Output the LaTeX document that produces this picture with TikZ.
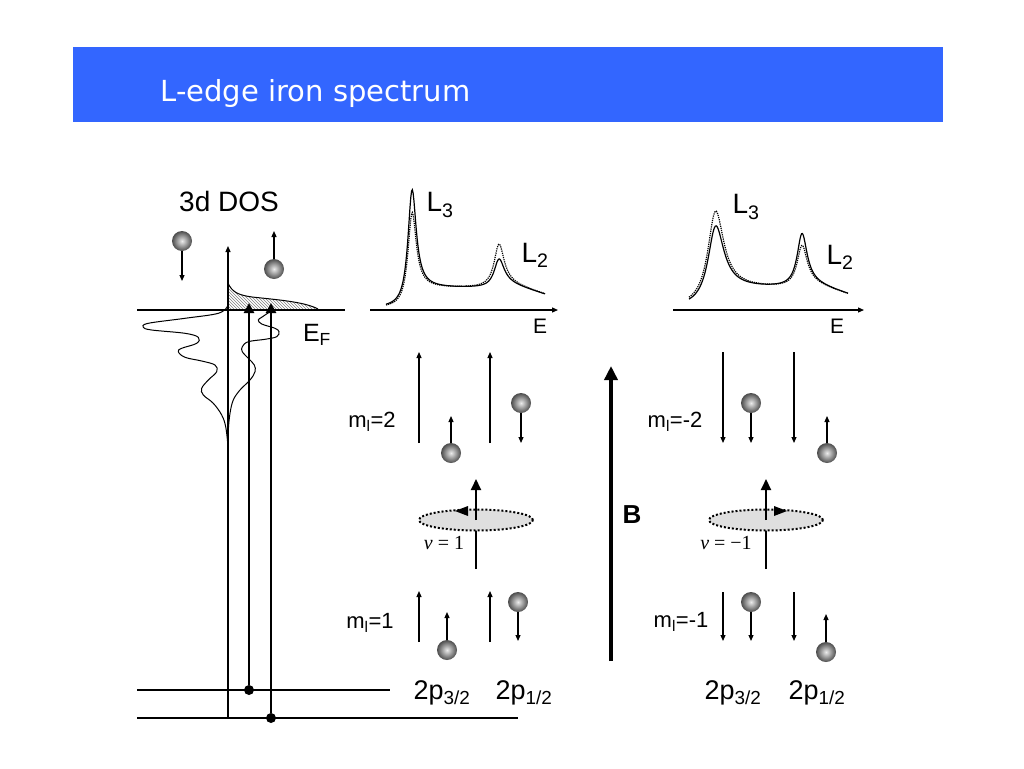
\documentclass[tikz,border=0pt]{standalone}
\usepackage{fontspec}
\setmainfont{Liberation Sans}
\newfontfamily\titlefont{DejaVu Sans}
\newfontfamily\seriffont{Liberation Serif}
\usetikzlibrary{arrows.meta,shapes.geometric,patterns}
\definecolor{titleblue}{RGB}{51,102,255}
\tikzset{
  elec/.style={circle,minimum size=20pt,inner sep=0pt,shading=radial,inner color=gray!15,outer color=gray!60!black},
  spin/.style={-{Triangle[length=6pt,width=5pt]},line width=1.2pt},
  exc/.style={-{Triangle[length=10pt,width=10pt]},line width=2.6pt},
  dot/.style={circle,fill=black,minimum size=10pt,inner sep=0pt},
  orb/.style={ellipse,draw=black,fill=gray!25,line width=2pt,dash pattern=on 2pt off 2pt,minimum width=114pt,minimum height=21pt},
  lab/.style={font=\fontsize{22}{26}\selectfont},
  big/.style={font=\fontsize{28}{32}\selectfont},
  lvl/.style={font=\fontsize{27}{30}\selectfont},
  nu/.style={font=\seriffont\fontsize{20}{24}\selectfont},
  declare function={lor(\x,\c,\w)=1/(1+((\x-\c)/\w)^2);
    stp(\x,\c)=1/(1+exp(min(max(-(\x-\c)/3,-9),9)));
    cont(\x,\c)=20*stp(\x,\c)+8*stp(\x,\c+87)-0.3*max(\x-\c-87,0);}
}
\begin{document}
\begin{tikzpicture}[x=1pt,y=-1pt]
    \useasboundingbox (0,0) rectangle (1024,768);
    \fill[titleblue] (73,47) rectangle (943,122);
    \node[anchor=base west,text=white,font=\titlefont\fontsize{29}{34}\selectfont] (title) at (157,101) {L-edge iron spectrum};

    \fill[pattern=north west lines,pattern color=gray] (228,310) -- (228,283) .. controls (232,292) and (238,295) .. (252,297) .. controls (280,300) and (305,302) .. (318,309) -- cycle;
    \draw[line width=1pt] (228,283) .. controls (232,292) and (238,295) .. (252,297) .. controls (280,300) and (305,302) .. (318,309);
    \draw[line width=1pt] plot[smooth,tension=0.6] coordinates {(227.7,306) (218.3,313.3) (185,318.3) (148.3,323.3) (143.3,327.3) (151.7,330) (185,333.3) (198.3,337.3) (196.7,343.3) (181.7,348.3) (178.3,351.7) (185,357.3) (201.7,361) (215,365) (216.7,371.7) (208.3,380) (201.7,388.3) (203.3,395) (213.3,403.3) (221.7,415) (225.7,426.7) (227.7,443.3)};
    \draw[line width=1pt] plot[smooth,tension=0.6] coordinates {(270,311.7) (261.7,317.3) (258.3,320) (261.7,324) (275,328.3) (279,331.7) (276.7,336.7) (265,339.3) (248.3,341.7) (242.3,346.7) (242.3,351.7) (248.3,358.3) (254.3,365) (255,371.7) (250,380) (240,390) (233.3,400) (230,413.3) (228.3,430) (228,443.3)};
    \draw[spin] (228,718) -- (228,246);
    \draw[line width=1.2pt] (137,310) -- (345,310);
    \node[font=\fontsize{28}{32}\selectfont] (dos) at (229,201) {3d DOS};
    \node[font=\fontsize{25}{30}\selectfont] (ef) at (317,335) {E\textsubscript{F}};

    \draw[line width=1.2pt] (137,690) -- (390,690);
    \draw[line width=1.2pt] (137,718) -- (518,718);
    \node[dot] (c1) at (249,690) {};
    \node[dot] (c2) at (271,718) {};
    \coordinate (f1) at (249,303);
    \coordinate (f2) at (271,303);
    \draw[exc] (c1) -- (f1);
    \draw[exc] (c2) -- (f2);

    \foreach \c/\w/\s/\t/\u/\v/\a/\b in {410/5/105/82/24/39/386/545, 713/10/68/83/49/37/689/848}
        {\draw[line width=1.2pt,densely dotted] plot[domain=\a:\b,samples=200] (\x,{308-(cont(\x,\c)+\t*lor(\x,\c+2,\w)+\v*lor(\x,\c+89,6))});
        \draw[line width=1.2pt] plot[domain=\a:\b,samples=200] (\x,{308-(cont(\x,\c)+\s*lor(\x,\c+2,\w)+\u*lor(\x,\c+89,6))});}
    \draw[spin] (370,310) -- (558,310);
    \draw[spin] (673,310) -- (864,310);
    \node[big] (l3a) at (440,205) {L\textsubscript{3}};
    \node[big] (l2a) at (535,255) {L\textsubscript{2}};
    \node[big] (l3b) at (746,207) {L\textsubscript{3}};
    \node[big] (l2b) at (840,257) {L\textsubscript{2}};
    \node[font=\fontsize{21}{24}\selectfont] (ea) at (540,326) {E};
    \node[font=\fontsize{21}{24}\selectfont] (eb) at (837,326) {E};

    \foreach \x in {419,490}
        {\draw[spin] (\x,443) -- (\x,352);
        \draw[spin] (\x,642) -- (\x,591);}
    \foreach \x in {723,794}
        {\draw[spin] (\x,352) -- (\x,443);
        \draw[spin] (\x,592) -- (\x,641);}
    \foreach \n/\p/\q/\t in {da/182/241/281, ua/274/269/231, m2a/451/453/416, m2b/521/403/443, n2a/751/403/443, n2b/827/453/416, m1a/447/650/612, m1b/518/602/641, n1a/751/602/641, n1b/826/652/614}
        {\node[elec] (\n) at (\p,\q) {};
        \coordinate (\n t) at (\p,\t);
        \draw[spin] (\n) -- (\n t);}

    \foreach \n/\p/\d in {o1/476/-1, o2/766/1}
        {\draw[line width=2pt] (\p,569) -- (\p,530);
        \node[orb] (\n) at (\p,520) {};
        \draw[-{Triangle[length=11pt,width=10pt]},line width=2pt] (\n.center) -- (\p,479);
        \fill (\p+\d*21,511) -- (\p+\d*8,506) -- (\p+\d*8,516) -- cycle;}
    \node[nu] (nu1) at (444,543) {\textit{ν} = 1};
    \node[nu] (nu2) at (726,543) {\textit{ν} = −1};

    \draw[-{Triangle[length=14pt,width=13pt]},line width=4pt] (611,661) -- (611,366);
    \node[font=\bfseries\fontsize{26}{30}\selectfont] (bf) at (632,515) {B};

    \node[lab] (ml2) at (372,422) {m\textsubscript{l}=2};
    \node[lab] (ml1) at (370,623) {m\textsubscript{l}=1};
    \node[lab] (mm2) at (675,422) {m\textsubscript{l}=-2};
    \node[lab] (mm1) at (681,622) {m\textsubscript{l}=-1};
    \node[lvl] (p3a) at (442,693) {2p\textsubscript{3/2}};
    \node[lvl] (p1a) at (524,693) {2p\textsubscript{1/2}};
    \node[lvl] (p3b) at (733,693) {2p\textsubscript{3/2}};
    \node[lvl] (p1b) at (817,693) {2p\textsubscript{1/2}};
\end{tikzpicture}
\end{document}
